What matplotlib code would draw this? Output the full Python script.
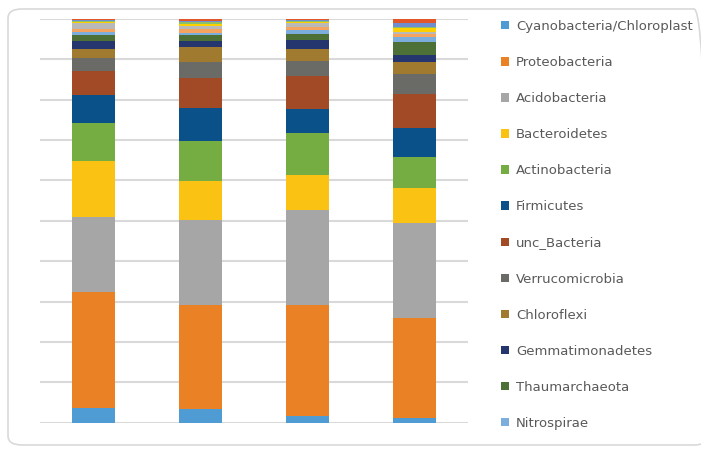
import numpy as np
import matplotlib.pyplot as plt
from matplotlib.patches import FancyBboxPatch, Patch

samples = ["1", "2", "3", "4"]

phyla = [
    "Cyanobacteria/Chloroplast", "Proteobacteria", "Acidobacteria",
    "Bacteroidetes", "Actinobacteria", "Firmicutes", "unc_Bacteria",
    "Verrucomicrobia", "Chloroflexi", "Gemmatimonadetes", "Thaumarchaeota",
    "Nitrospirae",
]

# relative abundance (%) per sample, bottom to top
cyanobacteria = [3.6, 3.3, 1.7, 1.2]
proteobacteria = [28.8, 25.9, 27.5, 24.7]
acidobacteria = [18.6, 20.9, 23.5, 23.6]
bacteroidetes = [13.8, 9.8, 8.7, 8.6]
actinobacteria = [9.4, 9.8, 10.4, 7.7]
firmicutes = [6.9, 8.3, 5.9, 7.1]
unc_bacteria = [5.9, 7.4, 8.2, 8.6]
verrucomicrobia = [3.3, 4.0, 3.8, 4.9]
chloroflexi = [2.2, 3.6, 2.9, 3.0]
gemmatimonadetes = [2.1, 1.6, 2.2, 1.7]
thaumarchaeota = [1.4, 1.5, 1.5, 3.3]
nitrospirae = [0.9, 0.5, 1.0, 1.1]
# minor phyla that are not in the legend
minor_a = [0.6, 0.8, 0.8, 0.9]
minor_b = [1.5, 0.8, 0.8, 0.4]
minor_c = [0.2, 0.6, 0.3, 1.0]
minor_d = [0.4, 0.4, 0.3, 0.2]
minor_e = [0.2, 0.4, 0.2, 1.1]
minor_f = [0.2, 0.4, 0.3, 0.9]

series = [cyanobacteria, proteobacteria, acidobacteria, bacteroidetes,
          actinobacteria, firmicutes, unc_bacteria, verrucomicrobia,
          chloroflexi, gemmatimonadetes, thaumarchaeota, nitrospirae,
          minor_a, minor_b, minor_c, minor_d, minor_e, minor_f]

colors = ["#4F9BD3", "#EA8124", "#A6A6A6", "#FAC314", "#76AD43", "#0B5189",
          "#A24A25", "#6A6A66", "#A07A2E", "#25366E", "#4C7035", "#7BAEDD",
          "#F4A360", "#B9B9B9", "#FFD000", "#8CC168", "#6F8ED0", "#E2572A"]

data = np.array(series, dtype=float)
data = data / data.sum(axis=0) * 100

fig = plt.figure(figsize=(7.01, 4.54), dpi=100)
fig.patches.append(FancyBboxPatch((8 / 701, 9 / 454), 700 / 701, 436 / 454,
                                  boxstyle="round,pad=0,rounding_size=0.02",
                                  transform=fig.transFigure, facecolor="none",
                                  edgecolor="#D9D9D9", linewidth=1.2))

ax = fig.add_axes([40 / 701, 1 - 422.7 / 454, 428 / 701, 403.7 / 454])
ax.set_facecolor("none")
x = np.arange(len(samples))
bottom = np.zeros(len(samples))
for vals, col in zip(data, colors):
    ax.bar(x, vals, bottom=bottom, width=0.4, color=col, zorder=3)
    bottom += vals

ax.set_xlim(-0.5, len(samples) - 0.5)
ax.set_ylim(0, 100)
ax.set_yticks(np.arange(0, 101, 10))
ax.grid(axis="y", color="#D9D9D9", linewidth=1.5, zorder=0)
ax.tick_params(left=False, bottom=False, labelleft=False, labelbottom=False)
for s in ax.spines.values():
    s.set_visible(False)

handles = [Patch(facecolor=c) for c in colors[:12]]
fig.legend(handles, phyla, loc="upper left", bbox_to_anchor=(489 / 701, 1 - 8 / 454),
           frameon=False, fontsize=9.5, labelcolor="#595959",
           handlelength=0.6, handleheight=0.6, handletextpad=0.55,
           labelspacing=1.75)

fig.savefig("out.png", dpi=100)
